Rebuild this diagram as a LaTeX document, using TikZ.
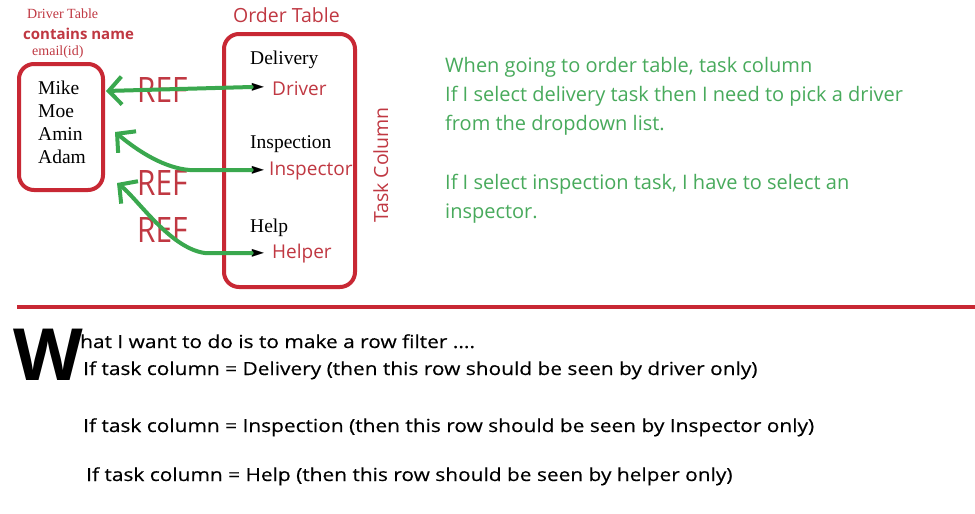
\documentclass[tikz,border=0pt]{standalone}
\usepackage{fontspec}
\setmainfont{Liberation Serif}
\newfontfamily\uifont{Open Sans}
\newfontfamily\rulefont[FakeStretch=1.16, FakeBold=0.4]{Open Sans}
\newfontfamily\reffont[FakeStretch=0.85]{Open Sans}
\newfontfamily\symfont{DejaVu Sans}
\usetikzlibrary{arrows.meta, positioning}
\definecolor{boxred}{RGB}{200,40,52}
\definecolor{txtred}{RGB}{192,56,66}
\definecolor{arrgreen}{RGB}{58,168,78}
\definecolor{txtgreen}{RGB}{72,170,92}
\tikzset{
  tablebox/.style={draw=boxred, line width=4pt, rounded corners=15pt, inner sep=0pt},
  caption/.style={text=txtred, font=\uifont\fontsize{19.5}{22}\selectfont, inner sep=0pt},
  item/.style={font=\fontsize{19.5}{22}\selectfont, inner sep=0pt, anchor=base west},
  role/.style={text=txtred, font=\uifont\fontsize{19}{22}\selectfont, inner sep=0pt, anchor=base west},
  pointer/.style={font=\symfont\fontsize{16}{16}\selectfont, inner sep=0pt},
  reflabel/.style={text=txtred, font=\reffont\fontsize{35}{35}\selectfont, inner sep=0pt, anchor=base west},
  refarr/.style={arrgreen, line width=4pt, line cap=round, line join=round,
                 -{Straight Barb[length=13pt, width=28pt]}},
  note/.style={text=txtgreen, font=\uifont\fontsize{20}{29}\selectfont, align=left,
               inner sep=0pt, anchor=base west},
  rule/.style={font=\rulefont\fontsize{18}{22}\selectfont, inner sep=0pt, anchor=base west},
}
\begin{document}
\begin{tikzpicture}[x=1pt, y=-1pt]
  \useasboundingbox[fill=white] (0,0) rectangle (975,514);

  % driver table
  \node[text=txtred, font=\fontsize{14}{14}\selectfont, inner sep=0pt, anchor=base west]
    (dtitle) at (27,19) {Driver Table};
  \node[text=txtred, font=\uifont\bfseries\fontsize{15}{15}\selectfont, inner sep=0pt, anchor=base west]
    (dcols) at (23,39) {contains name};
  \node[text=txtred, font=\fontsize{14}{14}\selectfont, inner sep=0pt, anchor=base west]
    (dmail) at (32,55) {email(id)};
  \node[tablebox, minimum width=84pt, minimum height=126pt] (drivers) at (61,127) {};
  % base of a multi-line node is its last line
  \node[item, align=left, font=\fontsize{19.5}{23}\selectfont] (names) at (38,163)
    {Mike\\Moe\\Amin\\Adam};

  % order table
  \node[caption, anchor=base west] (otitle) at (233,23) {Order Table};
  \node[tablebox, minimum width=131pt, minimum height=253pt] (order) at (289.5,160.5) {};
  \node[item] (deliv) at (250,64) {Delivery};
  \node[pointer] (p1) at (258,87) {►};
  \node[role] (drv) at (272,95) {Driver};
  \node[item] (insp) at (250,148) {Inspection};
  \node[pointer] (p2) at (258,170) {►};
  \node[role] (ins) at (269,175) {Inspector};
  \node[item] (help) at (250,232) {Help};
  \node[pointer] (p3) at (258,253) {►};
  \node[role] (hlp) at (272,258) {Helper};
  \node[caption, rotate=90, anchor=base] (tcol) at (388,165) {Task Column};

  % references
  \node[reflabel] (ref1) at (137,102) {REF};
  \node[reflabel] (ref2) at (137,195) {REF};
  \node[reflabel] (ref3) at (137,242) {REF};
  \draw[refarr] (p1.west) -- ([xshift=1pt, yshift=36pt]drivers.east);
  \draw[refarr] (p2.west) -- ++(-62,0)
    .. controls +(-25,-2) and +(24,20) .. ([xshift=10pt, yshift=-5pt]drivers.east);
  \draw[refarr] (p3.west) -- ++(-47,0)
    .. controls +(-35,-5) and +(20,15) .. ([xshift=12pt, yshift=-56pt]drivers.east);

  % explanation
  \node[note] (expl) at (445,218)
    {When going to order table, task column\\
     If I select delivery task then I need to pick a driver\\
     from the dropdown list.\\[30pt]
     If I select inspection task, I have to select an\\
     inspector.};

  \draw[boxred, line width=4.5pt] (17,307) -- (975,307);

  % row filter
  \node[font=\uifont\bfseries\fontsize{72}{72}\selectfont, inner sep=0pt, anchor=base west]
    (cap) at (13,380) {W};
  \node[rule] (r0) at (80,348) {hat I want to do is to make a row filter ....};
  \node[rule] (r1) at (83,375) {If task column = Delivery (then this row should be seen by driver only)};
  \node[rule] (r2) at (83,432) {If task column = Inspection (then this row should be seen by Inspector only)};
  \node[rule] (r3) at (86,481) {If task column = Help (then this row should be seen by helper only)};
\end{tikzpicture}
\end{document}
